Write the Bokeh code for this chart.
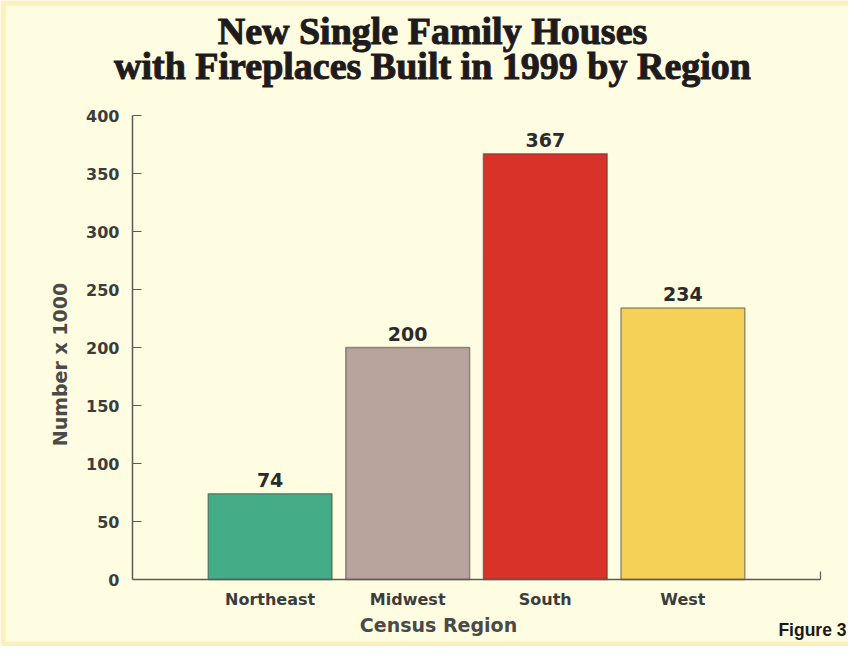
from math import pi

from bokeh.plotting import figure
from bokeh.models import (ColumnDataSource, Range1d, LabelSet, Label,
                          PolyAnnotation, FixedTicker, LinearAxis)
from bokeh.embed import file_html
from bokeh.resources import INLINE
from bokeh.core.properties import value

# ---- data ----
regions = ["Northeast", "Midwest", "South", "West"]
houses = [74, 200, 367, 234]          # number x 1000
bar_colors = ["#44AC86", "#B9A39D", "#D93229", "#F6D157"]
y_ticks = [0, 50, 100, 150, 200, 250, 300, 350, 400]
y_max = 400
title_lines = ["New Single Family Houses", "with Fireplaces Built in 1999 by Region"]
x_title = "Census Region"
y_title = "Number x 1000"
figure_tag = "Figure 3"

# ---- layout (pixels on the canvas) ----
W, H = 848, 646
FL, FR, FT, FB = 132, 820, 115, 579      # axis box: left, right, top, bottom

CREAM = "#FEFCE1"
GOLD = "#FDD662"
AXIS = "#5a5a5a"
TXT = "#3c3c3c"
SANS = "DejaVu Sans"

positions = list(range(len(regions)))
x_lo, x_hi = -1, len(regions)
ux = (x_hi - x_lo) / (FR - FL)           # data units per pixel
uy = (y_max - 0) / (FB - FT)
x_range = Range1d(x_lo - FL * ux, x_hi + (W - FR) * ux)
y_range = Range1d(0 - (H - FB) * uy, y_max + FT * uy)


def fx(px):
    return x_range.start + px * ux


def fy(py):
    return y_range.end - py * uy


source = ColumnDataSource(dict(x=positions, region=regions, houses=houses,
                               color=bar_colors, label=[str(v) for v in houses]))

p = figure(width=W, height=H, x_range=x_range, y_range=y_range,
           output_backend="svg", toolbar_location=None, min_border=0)

p.background_fill_color = CREAM
p.border_fill_color = CREAM
p.outline_line_color = None
p.xgrid.grid_line_color = None
p.ygrid.grid_line_color = None

p.vbar(x="x", top="houses", width=0.9, fill_color="color",
       line_color="#3a3a3a", line_alpha=0.5, line_width=1.5, source=source)

p.add_layout(LabelSet(x="x", y="houses", text="label", source=source,
                      y_offset=7, text_align="center", text_baseline="bottom",
                      text_font=value(SANS), text_font_style="bold",
                      text_font_size="19px", text_color="#2b2b2b"))

# y axis
ya = p.yaxis[0]
ya.fixed_location = x_lo
ya.bounds = (0, y_max)
ya.ticker = FixedTicker(ticks=y_ticks)
ya.major_tick_in = 9
ya.major_tick_out = 0
ya.minor_tick_line_color = None
ya.axis_line_color = AXIS
ya.axis_line_width = 1.5
ya.major_tick_line_color = AXIS
ya.major_tick_line_width = 1.2
ya.major_label_text_font = SANS
ya.major_label_text_font_style = "bold"
ya.major_label_text_font_size = "16px"
ya.major_label_text_color = TXT
ya.major_label_standoff = 13

# x axis
xa = p.xaxis[0]
xa.fixed_location = 0
xa.bounds = (x_lo, x_hi)
xa.ticker = FixedTicker(ticks=positions)
xa.major_label_overrides = {i: r for i, r in zip(positions, regions)}
xa.major_tick_line_color = None
xa.minor_tick_line_color = None
xa.major_tick_in = 0
xa.major_tick_out = 0
xa.axis_line_color = AXIS
xa.axis_line_width = 1.5
xa.major_label_text_font = SANS
xa.major_label_text_font_style = "bold"
xa.major_label_text_font_size = "16px"
xa.major_label_text_color = TXT
xa.major_label_standoff = 10

# small closing tick at the right end of the x axis
end_axis = LinearAxis(fixed_location=0, ticker=FixedTicker(ticks=[x_hi]),
                      axis_line_color=None, major_tick_in=8, major_tick_out=0,
                      major_tick_line_color=AXIS, major_tick_line_width=1.2,
                      minor_tick_line_color=None, major_label_text_color=None)
p.add_layout(end_axis, "below")

# axis titles
p.add_layout(Label(x=fx(438), y=fy(624), text=x_title, text_align="center",
                   text_baseline="middle", text_font=SANS,
                   text_font_style="bold", text_font_size="19px",
                   text_color="#4a4a4a"))
p.add_layout(Label(x=fx(59), y=fy(364), text=y_title, angle=pi / 2,
                   text_align="center", text_baseline="middle", text_font=SANS,
                   text_font_style="bold", text_font_size="19px",
                   text_color="#4a4a4a"))

# title (outlined to mimic the heavy poster serif)
for line, py in zip(title_lines, [30, 65.5]):
    p.add_layout(Label(x=fx(432), y=fy(py), text=line, text_align="center",
                       text_baseline="middle",
                       text_font="Liberation Serif", text_font_style="bold",
                       text_font_size="38px", text_color="#1f1b1c",
                       text_outline_color="#1f1b1c"))

# figure tag
p.add_layout(Label(x=fx(846), y=fy(629), text=figure_tag, text_align="right",
                   text_baseline="middle",
                   text_font="Liberation Sans",
                   text_font_style="bold", text_font_size="17.5px",
                   text_color="#1a1a1a"))

# gold frame around the page
p.add_layout(PolyAnnotation(xs=[fx(2.5), fx(W + 20), fx(W + 20), fx(2.5)],
                            ys=[fy(2.5), fy(2.5), fy(H - 2.5), fy(H - 2.5)],
                            line_color=GOLD, line_width=5, fill_color=None))

open("out.html", "w").write(file_html(p, INLINE))
